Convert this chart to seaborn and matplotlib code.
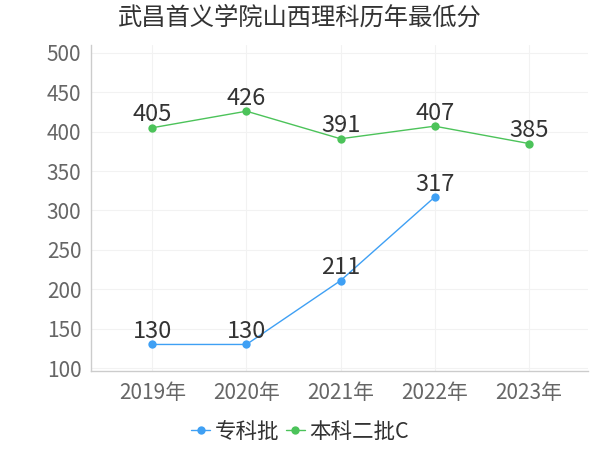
import matplotlib
matplotlib.use("Agg")
import matplotlib.pyplot as plt
import seaborn as sns
import pandas as pd

years = ["2019年", "2020年", "2021年", "2022年", "2023年"]
zhuanke_years = ["2019年", "2020年", "2021年", "2022年"]
zhuanke = [130, 130, 211, 317]
benke2c = [405, 426, 391, 407, 385]
series_names = ["专科批", "本科二批C"]
colors = ["#3fa0f4", "#4cc35a"]
yticks = [100, 150, 200, 250, 300, 350, 400, 450, 500]

sns.set_theme(style="white")
plt.rcParams['font.family'] = ['Noto Sans CJK SC', 'DejaVu Sans']

df = pd.DataFrame({
    "year": zhuanke_years + years,
    "score": zhuanke + benke2c,
    "series": [series_names[0]] * len(zhuanke) + [series_names[1]] * len(benke2c),
})
df["x"] = df["year"].map({y: i for i, y in enumerate(years)})

fig = plt.figure(figsize=(6, 4.5), dpi=100)
ax = fig.add_axes([0.152, 0.175, 0.828, 0.725])

sns.lineplot(data=df, x="x", y="score", hue="series", palette=colors,
             marker="o", markersize=6, markeredgewidth=0, linewidth=1,
             ax=ax, legend=True)

for name, c in zip(series_names, colors):
    sub = df[df["series"] == name]
    for xv, yv in zip(sub["x"], sub["score"]):
        ax.text(xv, yv + 2, str(yv), ha="center", va="bottom",
                fontsize=17, color="#333333")

ax.set_xlim(-0.65, 4.63)
ax.set_ylim(96, 510)
ax.set_xticks(range(len(years)))
ax.set_xticklabels(years)
ax.set_yticks(yticks)
ax.tick_params(axis="both", labelsize=15, colors="#666666", length=4, width=0.8)
ax.tick_params(axis="x", pad=4)
ax.tick_params(axis="y", pad=3)
ax.set_xlabel("")
ax.set_ylabel("")
ax.grid(True, color="#f2f2f2", linewidth=0.8)
for s in ["top", "right"]:
    ax.spines[s].set_visible(False)
for s in ["left", "bottom"]:
    ax.spines[s].set_color("#cccccc")
    ax.spines[s].set_linewidth(1)

leg = ax.legend(loc="center", bbox_to_anchor=(0.5, 0.04),
                bbox_transform=fig.transFigure, ncol=2,
                frameon=False, fontsize=15.5, handlelength=0.9,
                handletextpad=0.2, columnspacing=0.3)
for t in leg.get_texts():
    t.set_color("#333333")

fig.text(0.5, 0.96, "武昌首义学院山西理科历年最低分", ha="center", va="center",
         fontsize=17.5, color="#333333")

fig.savefig("out.png", dpi=100)
